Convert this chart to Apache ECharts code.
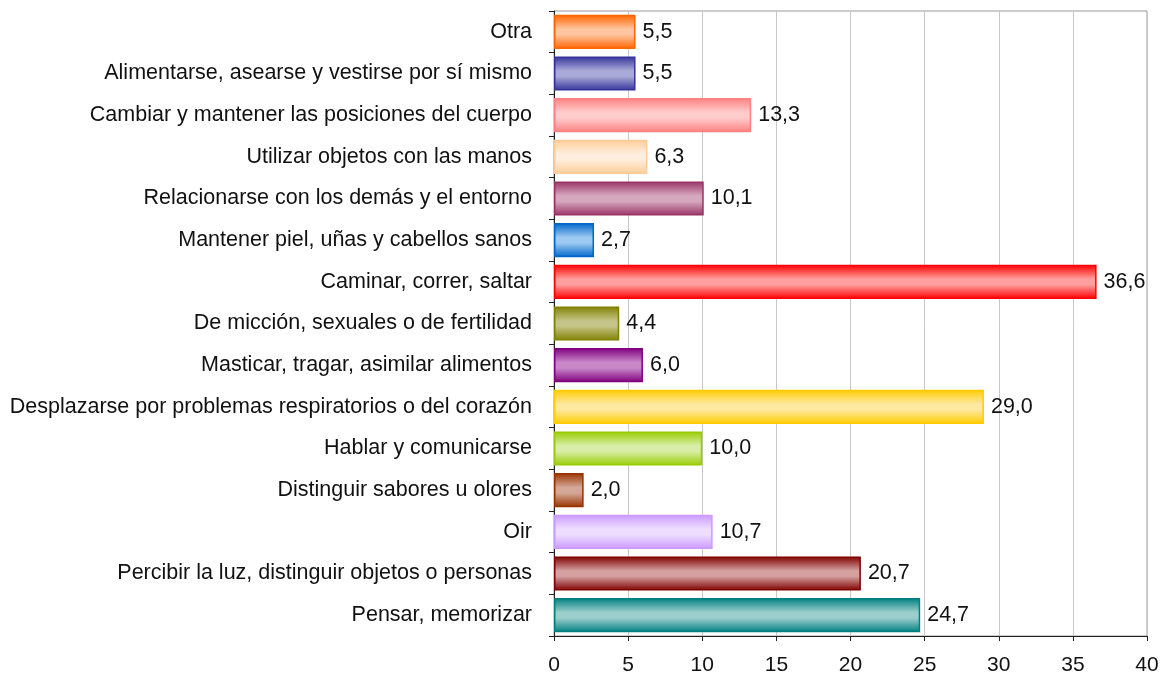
<!DOCTYPE html>
<html>
<head>
<meta charset="utf-8">
<script src="https://cdn.jsdelivr.net/npm/echarts@6/dist/echarts.min.js"></script>
<style>html,body{margin:0;padding:0;background:#fff;}#c{width:1166px;height:679px;}</style>
</head>
<body>
<div id="c"></div>
<script>
const categories = [
  "Otra",
  "Alimentarse, asearse y vestirse por sí mismo",
  "Cambiar y mantener las posiciones del cuerpo",
  "Utilizar objetos con las manos",
  "Relacionarse con los demás y el entorno",
  "Mantener piel, uñas y cabellos sanos",
  "Caminar, correr, saltar",
  "De micción, sexuales o de fertilidad",
  "Masticar, tragar, asimilar alimentos",
  "Desplazarse por problemas respiratorios o del corazón",
  "Hablar y comunicarse",
  "Distinguir sabores u olores",
  "Oir",
  "Percibir la luz, distinguir objetos o personas",
  "Pensar, memorizar"
];
const values = [5.5, 5.5, 13.3, 6.3, 10.1, 2.7, 36.6, 4.4, 6.0, 29.0, 10.0, 2.0, 10.7, 20.7, 24.7];
const edgeColors = ["#FF6600","#333399","#FF8080","#FFCC99","#993366","#0066CC","#FF0000","#808000","#800080","#FFCC00","#99CC00","#993300","#CC99FF","#800000","#008080"];
const midColors  = ["#FFC4A0","#AAAAD8","#FFCCCC","#FFEEDD","#D6A8BE","#9CCAF0","#FF9E9E","#C4C488","#C888C8","#FFE8A0","#D8EEA8","#D4A898","#EEDDFF","#D4A0A0","#9CCECE"];
const xTicks = [0,5,10,15,20,25,30,35,40];

const chart = echarts.init(document.getElementById('c'), null, {renderer:'canvas'});
const FONT = '"Liberation Sans", Arial, sans-serif';
chart.setOption({
  animation: false,
  backgroundColor: '#fff',
  grid: {left: 554, right: 19, top: 11, bottom: 43, show: true, borderColor: '#999', borderWidth: 1},
  xAxis: {
    type: 'value', min: xTicks[0], max: xTicks[xTicks.length-1], interval: 5,
    axisLine: {show: true, lineStyle: {color: '#222', width: 1}},
    axisTick: {show: true, length: 5, lineStyle: {color: '#222'}},
    splitLine: {show: true, lineStyle: {color: '#c8c8c8', width: 1}},
    axisLabel: {color: '#111', fontFamily: FONT, fontSize: 21, margin: 19}
  },
  yAxis: {
    type: 'category', data: categories, inverse: true,
    axisLine: {show: true, lineStyle: {color: '#222', width: 1}},
    axisTick: {show: true, length: 5, lineStyle: {color: '#222'}},
    axisLabel: {color: '#111', fontFamily: FONT, fontSize: 21.5, margin: 22}
  },
  series: [{
    type: 'bar',
    barCategoryGap: '18%',
    data: values.map((v, i) => ({
      value: v,
      itemStyle: {
        borderColor: edgeColors[i], borderWidth: 1.5,
        color: new echarts.graphic.LinearGradient(0, 0, 0, 1, [
          {offset: 0, color: edgeColors[i]},
          {offset: 0.42, color: midColors[i]},
          {offset: 0.58, color: midColors[i]},
          {offset: 1, color: edgeColors[i]}
        ])
      }
    })),
    label: {
      show: true, position: 'right', distance: 7,
      color: '#111', fontFamily: FONT, fontSize: 21.5,
      formatter: p => p.value.toFixed(1).replace('.', ',')
    }
  }]
});
</script>
</body>
</html>
